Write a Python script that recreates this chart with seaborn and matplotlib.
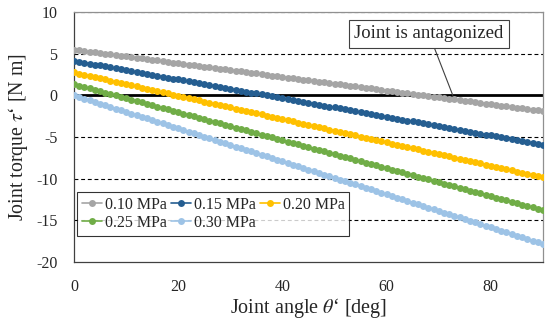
import matplotlib
matplotlib.use("Agg")
import matplotlib.pyplot as plt
import seaborn as sns
import pandas as pd

angles = [0, 1, 2, 3, 4, 5, 6, 7, 8, 9, 10, 11, 12, 13, 14, 15, 16, 17, 18, 19,
          20, 21, 22, 23, 24, 25, 26, 27, 28, 29, 30, 31, 32, 33, 34, 35, 36, 37, 38, 39,
          40, 41, 42, 43, 44, 45, 46, 47, 48, 49, 50, 51, 52, 53, 54, 55, 56, 57, 58, 59,
          60, 61, 62, 63, 64, 65, 66, 67, 68, 69, 70, 71, 72, 73, 74, 75, 76, 77, 78, 79,
          80, 81, 82, 83, 84, 85, 86, 87, 88, 89, 90]

torque_010 = [5.50, 5.42, 5.34, 5.25, 5.17, 5.09, 5.01, 4.93, 4.84, 4.76,
              4.68, 4.60, 4.52, 4.43, 4.35, 4.27, 4.19, 4.11, 4.02, 3.94,
              3.86, 3.78, 3.70, 3.61, 3.53, 3.45, 3.37, 3.29, 3.20, 3.12,
              3.04, 2.96, 2.88, 2.79, 2.71, 2.63, 2.55, 2.47, 2.38, 2.30,
              2.22, 2.14, 2.06, 1.97, 1.89, 1.81, 1.73, 1.65, 1.56, 1.48,
              1.40, 1.32, 1.24, 1.15, 1.07, 0.99, 0.91, 0.83, 0.74, 0.66,
              0.58, 0.50, 0.42, 0.33, 0.25, 0.17, 0.09, 0.01, -0.08, -0.16,
              -0.24, -0.32, -0.40, -0.49, -0.57, -0.65, -0.73, -0.81, -0.90, -0.98,
              -1.06, -1.14, -1.22, -1.31, -1.39, -1.47, -1.55, -1.63, -1.72, -1.80,
              -1.88]

torque_015 = [4.15, 4.04, 3.93, 3.81, 3.70, 3.59, 3.48, 3.37, 3.25, 3.14,
              3.03, 2.92, 2.81, 2.69, 2.58, 2.47, 2.36, 2.25, 2.13, 2.02,
              1.91, 1.80, 1.69, 1.57, 1.46, 1.35, 1.24, 1.13, 1.01, 0.90,
              0.79, 0.68, 0.57, 0.45, 0.34, 0.23, 0.12, 0.01, -0.11, -0.22,
              -0.33, -0.44, -0.55, -0.67, -0.78, -0.89, -1.00, -1.11, -1.23, -1.34,
              -1.45, -1.56, -1.67, -1.79, -1.90, -2.01, -2.12, -2.23, -2.35, -2.46,
              -2.57, -2.68, -2.79, -2.91, -3.02, -3.13, -3.24, -3.35, -3.47, -3.58,
              -3.69, -3.80, -3.91, -4.03, -4.14, -4.25, -4.36, -4.47, -4.59, -4.70,
              -4.81, -4.92, -5.03, -5.15, -5.26, -5.37, -5.48, -5.59, -5.71, -5.82,
              -5.93]

torque_020 = [2.75, 2.61, 2.47, 2.33, 2.19, 2.05, 1.91, 1.77, 1.63, 1.49,
              1.35, 1.21, 1.07, 0.93, 0.79, 0.65, 0.51, 0.37, 0.23, 0.09,
              -0.05, -0.19, -0.33, -0.47, -0.61, -0.75, -0.89, -1.03, -1.17, -1.31,
              -1.45, -1.59, -1.73, -1.87, -2.01, -2.15, -2.29, -2.43, -2.57, -2.71,
              -2.85, -2.99, -3.13, -3.27, -3.41, -3.55, -3.69, -3.83, -3.97, -4.11,
              -4.25, -4.39, -4.53, -4.67, -4.81, -4.95, -5.09, -5.23, -5.37, -5.51,
              -5.65, -5.79, -5.93, -6.07, -6.21, -6.35, -6.49, -6.63, -6.77, -6.91,
              -7.05, -7.19, -7.33, -7.47, -7.61, -7.75, -7.89, -8.03, -8.17, -8.31,
              -8.45, -8.59, -8.73, -8.87, -9.01, -9.15, -9.29, -9.43, -9.57, -9.71,
              -9.85]

torque_025 = [1.35, 1.18, 1.01, 0.85, 0.68, 0.51, 0.34, 0.17, 0.01, -0.16,
              -0.33, -0.50, -0.67, -0.83, -1.00, -1.17, -1.34, -1.51, -1.67, -1.84,
              -2.01, -2.18, -2.35, -2.51, -2.68, -2.85, -3.02, -3.19, -3.35, -3.52,
              -3.69, -3.86, -4.03, -4.19, -4.36, -4.53, -4.70, -4.87, -5.03, -5.20,
              -5.37, -5.54, -5.71, -5.87, -6.04, -6.21, -6.38, -6.55, -6.71, -6.88,
              -7.05, -7.22, -7.39, -7.55, -7.72, -7.89, -8.06, -8.23, -8.39, -8.56,
              -8.73, -8.90, -9.07, -9.23, -9.40, -9.57, -9.74, -9.91, -10.07, -10.24,
              -10.41, -10.58, -10.75, -10.91, -11.08, -11.25, -11.42, -11.59, -11.75, -11.92,
              -12.09, -12.26, -12.43, -12.59, -12.76, -12.93, -13.10, -13.27, -13.43, -13.60,
              -13.77]

torque_030 = [0.00, -0.20, -0.40, -0.59, -0.79, -0.99, -1.19, -1.39, -1.58, -1.78,
              -1.98, -2.18, -2.38, -2.57, -2.77, -2.97, -3.17, -3.37, -3.56, -3.76,
              -3.96, -4.16, -4.36, -4.55, -4.75, -4.95, -5.15, -5.35, -5.54, -5.74,
              -5.94, -6.14, -6.34, -6.53, -6.73, -6.93, -7.13, -7.33, -7.52, -7.72,
              -7.92, -8.12, -8.32, -8.51, -8.71, -8.91, -9.11, -9.31, -9.50, -9.70,
              -9.90, -10.10, -10.30, -10.49, -10.69, -10.89, -11.09, -11.29, -11.48, -11.68,
              -11.88, -12.08, -12.28, -12.47, -12.67, -12.87, -13.07, -13.27, -13.46, -13.66,
              -13.86, -14.06, -14.26, -14.45, -14.65, -14.85, -15.05, -15.25, -15.44, -15.64,
              -15.84, -16.04, -16.24, -16.43, -16.63, -16.83, -17.03, -17.23, -17.42, -17.62,
              -17.82]

series_labels = ["0.10 MPa", "0.15 MPa", "0.20 MPa", "0.25 MPa", "0.30 MPa"]
series_colors = ["#A5A5A5", "#255E91", "#FFC000", "#70AD47", "#9DC3E6"]
x_ticks = [0, 20, 40, 60, 80]
y_ticks = [-20, -15, -10, -5, 0, 5, 10]
grid_levels = [10, 5, -5, -10, -15]

all_series = [torque_010, torque_015, torque_020, torque_025, torque_030]
rows = []
for lab, vals in zip(series_labels, all_series):
    for a, v in zip(angles, vals):
        rows.append({"angle": a, "torque": v, "pressure": lab})
df = pd.DataFrame(rows)

sns.set_style("white")
plt.rcParams["font.family"] = ["Liberation Serif", "DejaVu Serif"]
plt.rcParams["mathtext.fontset"] = "stix"
plt.rcParams["axes.unicode_minus"] = False

fig = plt.figure(figsize=(5.5, 3.22), dpi=100)
ax = fig.add_axes([0.1345, 0.1863, 0.8527, 0.7764])

for yv in grid_levels:
    ax.axhline(yv, color="black", lw=0.8, ls=(0, (3.5, 2.5)), zorder=1)
ax.axhline(0, color="black", lw=2.0, zorder=1.5)

sns.lineplot(data=df, x="angle", y="torque", hue="pressure", hue_order=series_labels,
             palette=series_colors, marker="o", markersize=5.0, markeredgewidth=0,
             linewidth=1.2, ax=ax, zorder=3)

ax.set_xlim(0, 90)
ax.set_ylim(-20, 10)
ax.set_xticks(x_ticks)
ax.set_yticks(y_ticks)
ax.tick_params(axis="x", direction="in", length=4, width=0.8, labelsize=11.5, pad=12, color="#404040")
ax.tick_params(axis="y", direction="in", length=0, labelsize=11.5, pad=12)

for side in ["left", "bottom"]:
    ax.spines[side].set_color("#404040")
    ax.spines[side].set_linewidth(0.9)
for side in ["top", "right"]:
    ax.spines[side].set_color("#909090")
    ax.spines[side].set_linewidth(0.9)

ax.set_xlabel(r"Joint angle $\mathit{\theta}$‘ [deg]", fontsize=14.5, labelpad=1)
ax.set_ylabel(r"Joint torque $\mathit{\tau}$‘ [N m]", fontsize=14.3, labelpad=4)

handles, labels = ax.get_legend_handles_labels()
order = [0, 3, 1, 4, 2]
handles = [handles[i] for i in order]
labels = [labels[i] for i in order]
leg = ax.legend(handles, labels, ncol=3, loc="lower left", bbox_to_anchor=(0.006, 0.105),
                fontsize=11.5, frameon=True, fancybox=False, edgecolor="black",
                handlelength=1.3, handletextpad=0.15, columnspacing=0.25,
                borderpad=0.3, labelspacing=0.15, borderaxespad=0)
leg.get_frame().set_linewidth(0.8)

ax.annotate("Joint is antagonized", xy=(72.7, 0), xytext=(68.1, 7.4),
            ha="center", va="center", fontsize=13.5,
            bbox=dict(boxstyle="square,pad=0.3", fc="white", ec="#404040", lw=0.8),
            arrowprops=dict(arrowstyle="-", color="#404040", lw=0.8, shrinkA=0, shrinkB=0),
            zorder=5)

fig.savefig("out.png", dpi=100)
